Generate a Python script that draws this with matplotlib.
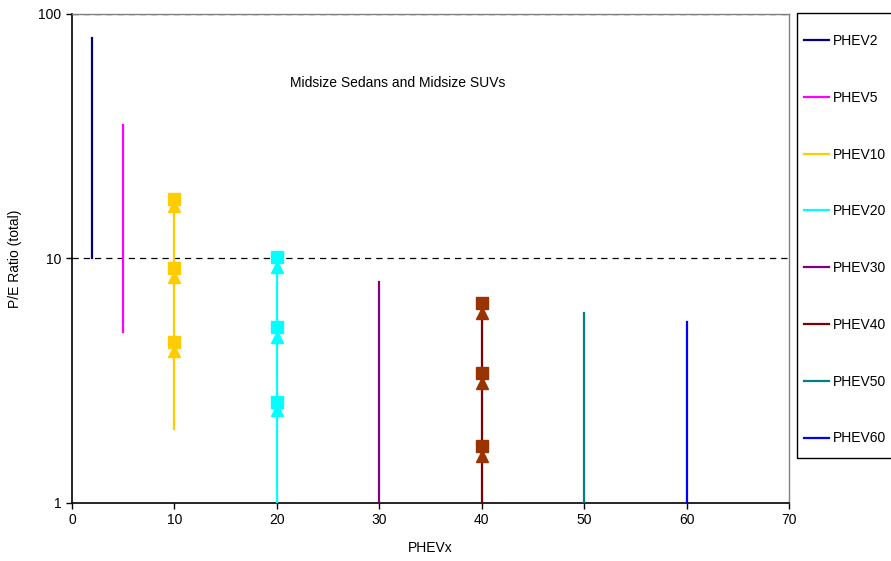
import matplotlib.pyplot as plt
from matplotlib.patches import Rectangle
from matplotlib.ticker import FixedLocator, NullLocator

plt.rcParams['font.family'] = ['Liberation Sans', 'DejaVu Sans']

# series: name, x position, low/high of the vertical line, colour
names = ['PHEV2', 'PHEV5', 'PHEV10', 'PHEV20', 'PHEV30', 'PHEV40', 'PHEV50', 'PHEV60']
xpos = [2, 5, 10, 20, 30, 40, 50, 60]
lows = [10, 5, 2.0, 1, 1, 1, 1, 1]
highs = [80, 35, 17.5, 10.1, 8.0, 6.6, 6.0, 5.5]
colors = ['#000080', '#FF00FF', '#FFCC00', '#00FFFF', '#800080', '#800000', '#008080', '#0000FF']

# marker points (squares and triangles)
sq_x10 = [10, 10, 10]
sq_y10 = [17.5, 9.15, 4.55]
tri_y10 = [16.4, 8.4, 4.2]
sq_x20 = [20, 20, 20]
sq_y20 = [10.1, 5.25, 2.6]
tri_y20 = [9.2, 4.77, 2.4]
sq_x40 = [40, 40, 40]
sq_y40 = [6.55, 3.4, 1.71]
tri_y40 = [6.0, 3.1, 1.56]

fig = plt.figure(figsize=(8.91, 5.61), dpi=100)
ax = fig.add_axes([0.0808, 0.1034, 0.8047, 0.8717])
ax.set_yscale('log')

handles = []
for i in range(len(names)):
    h, = ax.plot([xpos[i], xpos[i]], [lows[i], highs[i]], color=colors[i], lw=1.6, label=names[i], zorder=3)
    handles.append(h)

ax.plot(sq_x10, sq_y10, 's', color='#FFCC00', ms=9, zorder=4)
ax.plot(sq_x10, tri_y10, '^', color='#FFCC00', ms=9, zorder=4)
ax.plot(sq_x20, sq_y20, 's', color='#00FFFF', ms=9, zorder=4)
ax.plot(sq_x20, tri_y20, '^', color='#00FFFF', ms=9, zorder=4)
ax.plot(sq_x40, sq_y40, 's', color='#993300', ms=9, zorder=4)
ax.plot(sq_x40, tri_y40, '^', color='#993300', ms=9, zorder=4)

ax.axhline(10, color='black', lw=0.9, ls=(0, (5, 4)), zorder=2)
ax.axhline(100, color='black', lw=0.9, ls=(0, (5, 4)), zorder=2)

ax.set_xlim(0, 70)
ax.set_ylim(1, 100)
ax.xaxis.set_major_locator(FixedLocator([0, 10, 20, 30, 40, 50, 60, 70]))
ax.yaxis.set_major_locator(FixedLocator([1, 10, 100]))
ax.yaxis.set_minor_locator(NullLocator())
ax.set_yticklabels(['1', '10', '100'])
ax.tick_params(axis='both', direction='out', length=4, width=1, labelsize=10, colors='black')

for s in ['left', 'bottom']:
    ax.spines[s].set_color('black')
    ax.spines[s].set_linewidth(1.2)
for s in ['top', 'right']:
    ax.spines[s].set_color('#808080')
    ax.spines[s].set_linewidth(1)

ax.set_xlabel('PHEVx', fontsize=10, labelpad=10)
ax.set_ylabel('P/E Ratio (total)', fontsize=10, labelpad=12)
ax.text(31.8, 52, 'Midsize Sedans and Midsize SUVs', fontsize=10, ha='center', va='center')

# legend box runs past the right edge of the figure
fig.patches.append(Rectangle((797 / 891, 1 - 458 / 561), 0.2, (458 - 13) / 561,
                             transform=fig.transFigure, fill=False, edgecolor='black', lw=1))
leg = fig.legend(handles=handles, labels=names, loc='upper left', bbox_to_anchor=(804 / 891, 1 - 34 / 561),
                 fontsize=10, labelspacing=3.08, handlelength=1.8, handletextpad=0.3,
                 borderpad=0, borderaxespad=0, frameon=False)

fig.savefig('out.png', dpi=100)
